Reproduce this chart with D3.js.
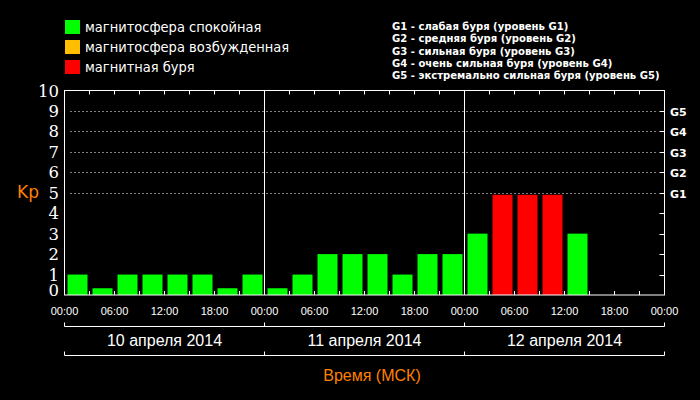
<!DOCTYPE html>
<html><head><meta charset="utf-8">
<script src="https://cdn.jsdelivr.net/npm/d3@7"></script>
<style>body{margin:0;background:#000}svg{display:block}</style>
</head><body><svg id="c" width="700" height="400"></svg>
<script>
const kp = [1,0.33,1,1,1,1,0.33,1, 0.33,1,2,2,2,1,2,2, 3,4.9,4.9,4.9,3];
const colors = ["#00ff00","#00ff00","#00ff00","#00ff00","#00ff00","#00ff00","#00ff00","#00ff00",
"#00ff00","#00ff00","#00ff00","#00ff00","#00ff00","#00ff00","#00ff00","#00ff00",
"#00ff00","#ff0000","#ff0000","#ff0000","#00ff00"];
const timeLabels = ["00:00","06:00","12:00","18:00","00:00","06:00","12:00","18:00","00:00","06:00","12:00","18:00","00:00"];
const days = ["10 апреля 2014","11 апреля 2014","12 апреля 2014"];
const gLabels = ["G1","G2","G3","G4","G5"];
const legendItems = ["магнитосфера спокойная","магнитосфера возбужденная","магнитная буря"];
const legendColors = ["#00ff00","#ffbf00","#ff0000"];
const gLegend = ["G1 - слабая буря (уровень G1)","G2 - средняя буря (уровень G2)","G3 - сильная буря (уровень G3)","G4 - очень сильная буря (уровень G4)","G5 - экстремально сильная буря (уровень G5)"];

const svg = d3.select("#c");
svg.append("rect").attr("width",700).attr("height",400).attr("fill","#000");
const L=64.5,R=664.5;
const x = d3.scaleLinear().domain([0,24]).range([L,R]);
const y = d3.scaleLinear().domain([0,10]).range([295,90.5]);

[5,6,7,8,9].forEach(v=>{
  svg.append("line").attr("x1",L+6).attr("x2",R-6).attr("y1",Math.round(y(v))+0.5).attr("y2",Math.round(y(v))+0.5)
   .attr("stroke","#fff").attr("stroke-dasharray","1,3");
});
svg.selectAll(".b").data(kp).enter().append("rect")
 .attr("x",(d,i)=>x(i)+3).attr("width",x(1)-x(0)-5)
 .attr("y",d=>y(d)).attr("height",d=>y(0)-y(d)).attr("fill",(d,i)=>colors[i]);
svg.append("rect").attr("x",L).attr("y",90.5).attr("width",R-L).attr("height",y(0)-90.5)
 .attr("fill","none").attr("stroke","#fff");
[8,16].forEach(v=>svg.append("line").attr("x1",x(v)).attr("x2",x(v)).attr("y1",90.5).attr("y2",295).attr("stroke","#fff"));
d3.range(1,24).forEach(v=>{
  svg.append("line").attr("x1",x(v)).attr("x2",x(v)).attr("y1",90.5).attr("y2",94.5).attr("stroke","#fff");
  svg.append("line").attr("x1",x(v)).attr("x2",x(v)).attr("y1",295).attr("y2",291).attr("stroke","#fff");
});
d3.range(1,10).forEach(v=>svg.append("line").attr("x1",R).attr("x2",R-5).attr("y1",Math.round(y(v))+0.5).attr("y2",Math.round(y(v))+0.5).attr("stroke","#fff"));
d3.range(0,11).forEach(v=>svg.append("text").attr("x",59).attr("y",y(v)+ (v==0?1:6)).attr("text-anchor","end")
 .attr("fill","#fff").attr("font-family","DejaVu Serif").attr("font-size",16.5).text(v));
gLabels.forEach((g,i)=>svg.append("text").attr("x",670).attr("y",y(i+5)+5).attr("fill","#fff")
 .attr("font-family","DejaVu Sans").attr("font-weight","bold").attr("font-size",11).text(g));
svg.append("text").attr("x",17).attr("y",198).attr("fill","#ff8000").attr("font-family","DejaVu Sans").attr("font-size",17).text("Kp");
timeLabels.forEach((t,i)=>svg.append("text").attr("x",x(i*2)).attr("y",315).attr("text-anchor","middle")
 .attr("fill","#fff").attr("font-family","Liberation Sans Narrow, Liberation Sans").attr("font-size",11).text(t));
[326.5,355.5].forEach(yy=>{
  svg.append("line").attr("x1",L).attr("x2",R).attr("y1",yy).attr("y2",yy).attr("stroke","#fff");
  [0,8,16,24].forEach(v=>svg.append("line").attr("x1",x(v)).attr("x2",x(v)).attr("y1",yy).attr("y2",yy-4).attr("stroke","#fff"));
});
days.forEach((d,i)=>svg.append("text").attr("x",x(i*8+4)).attr("y",346).attr("text-anchor","middle")
 .attr("fill","#fff").attr("font-family","Liberation Sans Narrow, Liberation Sans").attr("font-size",16).text(d));
svg.append("text").attr("x",372).attr("y",381).attr("text-anchor","middle").attr("fill","#ff8000")
 .attr("font-family","Liberation Sans Narrow, Liberation Sans").attr("font-size",16).text("Время (МСК)");
legendItems.forEach((t,i)=>{
  svg.append("rect").attr("x",65).attr("y",20+i*20).attr("width",15).attr("height",14).attr("fill",legendColors[i]);
  svg.append("text").attr("x",85).attr("y",32+i*20).attr("fill","#fff").attr("font-family","DejaVu Sans Condensed, DejaVu Sans").attr("font-size",14.5).text(t);
});
gLegend.forEach((t,i)=>svg.append("text").attr("x",392).attr("y",30+i*12.3).attr("fill","#fff")
 .attr("font-family","DejaVu Sans Condensed, DejaVu Sans").attr("font-weight","bold").attr("font-size",11.2).text(t));
</script></body></html>
